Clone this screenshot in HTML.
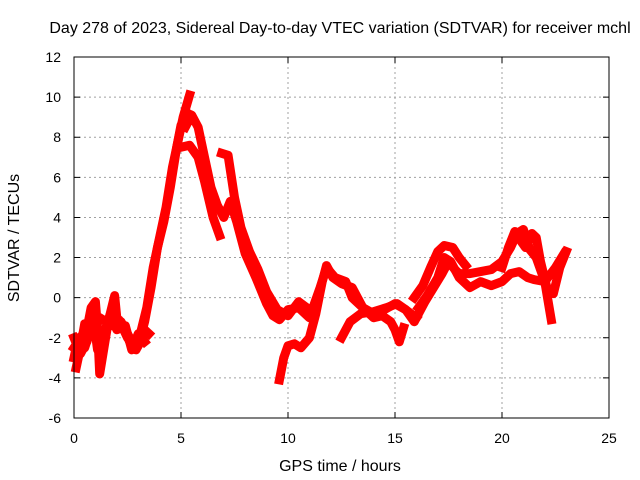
<!DOCTYPE html>
<html><head><meta charset="utf-8"><style>
body{margin:0;background:#fff}
svg{display:block;font-family:"Liberation Sans",sans-serif;font-size:14px}
.big{font-size:16px}
</style></head><body>
<svg id="c" width="640" height="480" viewBox="0 0 640 480">
<text class="big" x="340" y="33" text-anchor="middle">Day 278 of 2023, Sidereal Day-to-day VTEC variation (SDTVAR) for receiver mchl</text>
<text class="big" x="340" y="471" text-anchor="middle">GPS time / hours</text>
<text class="big" transform="translate(19,238) rotate(-90)" text-anchor="middle">SDTVAR / TECUs</text>
<g id="grid"></g><g id="marks"></g>
<rect x="74" y="57" width="535" height="361" fill="none" stroke="#000" stroke-width="1"/>
</svg>
<script>
const xTicks=[0,5,10,15,20,25];
const yTicks=[-6,-4,-2,0,2,4,6,8,10,12];
const s1=[[0,-3],[0.2,-2],[0.5,-2.5],[0.8,-1.5],[1.2,-2],[1.5,-1.5],[1.8,-1.2],[2.2,-1.2],[2.6,-2],[3,-2.4],[3.3,-1.2],[3.6,0.5],[3.9,2.5],[4.2,3.8],[4.5,5.5],[4.8,7.5],[5,8.6],[5.3,9.2]];
const s2=[[0,-2.5],[0.3,-2],[0.6,-1.5],[0.9,-1.8],[1.2,-1],[1.5,-1.2],[1.8,-1.4],[2.1,-1.1],[2.5,-2],[2.8,-2.3],[3.1,-1.8],[3.4,-0.5],[3.7,1.5],[4,3],[4.3,4.5],[4.6,6.5],[4.9,8],[5.1,9],[5.4,10.1]];
const s3=[[0.1,-3.5],[0.3,-2.5],[0.5,-1.3],[0.6,-1.6],[0.8,-0.5],[1,-0.2],[1.1,-1.5],[1.2,-3.8],[1.4,-2.5],[1.6,-1.2],[1.9,0.1],[2,-1],[2.3,-1.5],[2.6,-2.2],[2.9,-2.6],[3.1,-2.2],[3.3,-1.6],[3.5,-1.8]];
const s12=[[0,-2],[0.3,-2.8],[0.6,-2.2],[0.9,-1],[1.1,-2.6],[1.4,-1.8],[1.7,-0.8],[2,-1.6],[2.4,-1.4],[2.7,-2.6],[3,-1.8],[3.3,-2.2]];
const s4=[[5.2,8.5],[5.5,9.1],[5.8,8.5],[6.1,7],[6.4,5.5],[6.7,4.6],[7,4],[7.3,4.8],[7.6,3.8],[8,2.2],[8.5,1],[9,-0.3],[9.3,-0.9],[9.6,-1.1],[10,-0.6],[10.5,-0.5],[11,-1],[11.5,0.5],[11.8,1.5],[12.2,1],[12.7,0.8],[13,0],[13.5,-0.5],[14,-0.8],[14.5,-0.6],[15,-0.3],[15.5,-0.6],[16,-1]];
const s5=[[5,7.5],[5.4,7.6],[5.8,7],[6.1,5.8],[6.5,4],[6.8,3.1]];
const s6=[[6.9,7.2],[7.2,7.1],[7.5,5],[7.8,3.5],[8.2,2.3],[8.6,1.4],[9,0.3],[9.5,-0.6],[10,-0.9],[10.5,-0.2],[11,-0.6]];
const s7=[[9.6,-4.1],[9.8,-3],[10,-2.4],[10.3,-2.3],[10.6,-2.5],[11,-2],[11.3,-0.8],[11.6,0.8],[11.8,1.6],[12.1,1],[12.5,0.7],[13,0.5],[13.5,-0.5],[14,-1],[14.4,-0.9],[14.8,-1.2],[15,-1.6],[15.2,-2.2],[15.4,-1.5]];
const s8=[[12.5,-2],[12.9,-1.2],[13.4,-0.8],[14,-0.7],[14.6,-0.5],[15.1,-0.3],[15.5,-0.6],[15.9,-1.2],[16.4,-0.2],[16.8,0.5],[17.2,1.2],[17.5,1.8],[17.8,1.4],[18,1.2],[18.5,1.2],[19,1.3],[19.5,1.4],[20,1.8],[20.4,2.5],[20.7,3.2],[21,3.4],[21.3,2.4],[21.6,2],[22,0.8],[22.3,-1.1]];
const s9=[[15.9,0],[16.3,0.6],[16.7,1.6],[17,2.3],[17.3,2.6],[17.7,2.5],[18,2],[18.3,1.6]];
const s10=[[16.1,-0.5],[16.5,0.1],[17,1],[17.3,2],[17.6,1.8],[18,1],[18.5,0.5],[19,0.8],[19.5,0.6],[20,0.8],[20.4,1.2],[20.8,1.3],[21.2,1],[21.5,0.9],[22,0.8],[22.5,1.5],[22.9,2.2]];
const s11=[[20,1.5],[20.3,2.5],[20.6,3.3],[20.9,2.8],[21.1,2.5],[21.4,3.2],[21.6,3],[21.8,1.8],[22.1,0.5],[22.4,0.2],[22.7,1.5],[23,2.3]];
const series=[s1,s2,s3,s12,s4,s5,s6,s7,s8,s9,s10,s11];
const X=v=>74+v*(535/25), Y=v=>418-(v+6)*(361/18);
const NS="http://www.w3.org/2000/svg";
const g=document.getElementById('grid'), m=document.getElementById('marks');
function mk(tag,at,par){const e=document.createElementNS(NS,tag);for(const k in at)e.setAttribute(k,at[k]);par.appendChild(e);return e;}
xTicks.forEach(t=>{
 if(t>0&&t<25){const l=mk('line',{x1:X(t),x2:X(t),y1:57,y2:418,stroke:'#a0a0a0','stroke-dasharray':'2,3'},g);
 
 }
 const tk=mk('path',{d:`M${X(t)},418v-6M${X(t)},57v6`,stroke:'#000'},g);
 
 
 const tx=mk('text',{x:X(t),y:443,'text-anchor':'middle'},g);tx.textContent=t;
 
 
});
yTicks.forEach(t=>{
 if(t>-6&&t<12){const l=mk('line',{x1:74,x2:609,y1:Y(t),y2:Y(t),stroke:'#a0a0a0','stroke-dasharray':'2,3'},g);
 
 }
 const tk=mk('path',{d:`M74,${Y(t)}h6M609,${Y(t)}h-6`,stroke:'#000'},g);
 
 
 const tx=mk('text',{x:61,y:Y(t)+5,'text-anchor':'end'},g);tx.textContent=t;
 
 
});
series.forEach((s,i)=>{
 const p=mk('polyline',{points:s.map(d=>X(d[0])+','+Y(d[1])).join(' '),fill:'none',stroke:'#ff0000','stroke-width':9,'stroke-linejoin':'round','stroke-linecap':'square'},m);
 
 
});
</script>
</body></html>
